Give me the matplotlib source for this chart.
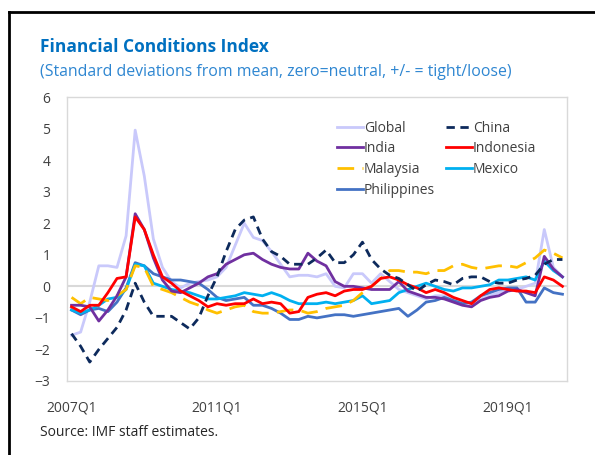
import numpy as np
import matplotlib.pyplot as plt
from matplotlib.lines import Line2D

plt.rcParams['font.family'] = ['Open Sans', 'DejaVu Sans']

# quarterly data, 2007Q1 - 2020Q3
start_year = 2007
n_quarters = 55
quarters = [f'{start_year + i // 4}Q{i % 4 + 1}' for i in range(n_quarters)]

global_fci = [-1.55, -1.45, -0.5, 0.65, 0.65, 0.6, 1.6, 4.95, 3.5, 1.5,
              0.6, 0.15, -0.05, 0.1, 0.15, 0.2, 0.3, 0.6, 1.3, 2.0,
              1.55, 1.45, 1.1, 0.7, 0.3, 0.35, 0.35, 0.3, 0.4, 0.0,
              -0.05, 0.4, 0.4, 0.1, 0.4, 0.15, -0.1, -0.2, -0.3, -0.4,
              -0.3, -0.3, -0.4, -0.5, -0.55, -0.4, -0.3, -0.2, -0.1, -0.1,
              0.0, 0.1, 1.8, 0.6, 0.3]
china = [-1.5, -1.9, -2.4, -2.0, -1.65, -1.3, -0.75, 0.1, -0.5, -0.95,
         -0.95, -0.95, -1.15, -1.35, -1.0, -0.3, 0.3, 1.1, 1.8, 2.1,
         2.2, 1.5, 1.1, 0.95, 0.7, 0.7, 0.7, 0.9, 1.15, 0.75,
         0.75, 1.0, 1.4, 0.85, 0.55, 0.35, 0.25, 0.05, -0.15, 0.05,
         0.2, 0.15, 0.05, 0.25, 0.3, 0.3, 0.15, 0.1, 0.1, 0.2,
         0.25, 0.35, 0.7, 0.85, 0.85]
india = [-0.6, -0.6, -0.65, -1.1, -0.75, -0.3, 0.3, 2.3, 1.8, 0.9,
         0.2, -0.15, -0.2, -0.05, 0.1, 0.3, 0.4, 0.7, 0.85, 1.0,
         1.05, 0.85, 0.7, 0.6, 0.55, 0.55, 1.05, 0.8, 0.65, 0.15,
         0.0, 0.0, -0.05, -0.1, -0.1, -0.1, 0.15, -0.15, -0.25, -0.35,
         -0.35, -0.4, -0.5, -0.6, -0.65, -0.45, -0.35, -0.3, -0.15, -0.1,
         -0.2, -0.3, 0.95, 0.55, 0.3]
indonesia = [-0.65, -0.8, -0.6, -0.6, -0.2, 0.25, 0.3, 2.2, 1.8, 1.0,
             0.3, 0.1, -0.15, -0.3, -0.45, -0.65, -0.55, -0.6, -0.55, -0.55,
             -0.4, -0.55, -0.5, -0.55, -0.85, -0.8, -0.35, -0.25, -0.2, -0.3,
             -0.15, -0.1, -0.1, 0.0, 0.25, 0.3, 0.2, 0.05, -0.05, -0.2,
             -0.1, -0.2, -0.35, -0.45, -0.55, -0.3, -0.1, -0.05, -0.1, -0.15,
             -0.15, -0.2, 0.3, 0.2, 0.0]
malaysia = [-0.35, -0.55, -0.35, -0.4, -0.45, -0.3, -0.1, 0.65, 0.6, 0.0,
            -0.1, -0.2, -0.35, -0.5, -0.6, -0.75, -0.85, -0.75, -0.65, -0.6,
            -0.8, -0.85, -0.85, -0.8, -0.75, -0.75, -0.85, -0.8, -0.7, -0.65,
            -0.6, -0.45, -0.2, 0.0, 0.25, 0.5, 0.5, 0.45, 0.45, 0.4,
            0.5, 0.5, 0.65, 0.7, 0.6, 0.55, 0.6, 0.65, 0.65, 0.6,
            0.75, 0.9, 1.15, 1.05, 0.9]
mexico = [-0.75, -0.85, -0.75, -0.6, -0.4, -0.35, -0.1, 0.7, 0.65, 0.1,
          0.0, -0.1, -0.15, -0.2, -0.3, -0.4, -0.4, -0.35, -0.3, -0.2,
          -0.25, -0.3, -0.2, -0.3, -0.45, -0.55, -0.55, -0.55, -0.5, -0.55,
          -0.5, -0.45, -0.3, -0.55, -0.5, -0.45, -0.2, -0.1, 0.0, 0.1,
          0.0, -0.1, -0.15, -0.05, -0.05, 0.0, 0.05, 0.2, 0.2, 0.25,
          0.3, 0.2, 0.8, 0.5, 0.3]
philippines = [-0.75, -0.9, -0.75, -0.7, -0.8, -0.5, -0.05, 0.75, 0.65, 0.4,
               0.3, 0.2, 0.2, 0.15, 0.1, -0.1, -0.35, -0.45, -0.4, -0.35,
               -0.6, -0.6, -0.7, -0.85, -1.05, -1.05, -0.95, -1.0, -0.95, -0.9,
               -0.9, -0.95, -0.9, -0.85, -0.8, -0.75, -0.7, -0.95, -0.75, -0.5,
               -0.45, -0.35, -0.45, -0.55, -0.5, -0.3, -0.2, -0.1, -0.05, -0.05,
               -0.5, -0.5, -0.05, -0.2, -0.25]

x = np.arange(n_quarters)

series = [
    {'y': global_fci, 'label': 'Global', 'color': '#C9C9FB', 'ls': '-'},
    {'y': china, 'label': 'China', 'color': '#0D2A5C', 'ls': (0, (3, 2))},
    {'y': india, 'label': 'India', 'color': '#7030A0', 'ls': '-'},
    {'y': indonesia, 'label': 'Indonesia', 'color': '#FF0000', 'ls': '-'},
    {'y': malaysia, 'label': 'Malaysia', 'color': '#FFC000', 'ls': (0, (6, 3))},
    {'y': mexico, 'label': 'Mexico', 'color': '#00B0F0', 'ls': '-'},
    {'y': philippines, 'label': 'Philippines', 'color': '#4472C4', 'ls': '-'},
]

fig = plt.figure(figsize=(5.95, 4.55), dpi=100)
ax = fig.add_axes([67 / 595, 1 - 381 / 455, 500 / 595, 284 / 455])

ax.axhline(0, color='#D9D9D9', lw=1.5, zorder=1)

# draw order: Global at the back
order = [0, 6, 5, 4, 2, 3, 1]
for k in order:
    s = series[k]
    ax.plot(x, s['y'], color=s['color'], ls=s['ls'], lw=2, label=s['label'],
            zorder=2 + order.index(k))

ax.set_xlim(-0.5, n_quarters - 0.5)
ax.set_ylim(-3, 6)
ax.set_yticks(range(-3, 7))
ax.set_xticks(x[::16])
ax.set_xticklabels([quarters[i] for i in x[::16]])
ax.tick_params(length=0, labelsize=10, labelcolor='#404040')
ax.tick_params(axis='y', pad=12)
ax.tick_params(axis='x', pad=14)
for sp in ax.spines.values():
    sp.set_color('#D9D9D9')
    sp.set_linewidth(1)

# legend fills by column, so list it column by column
handles, labels = ax.get_legend_handles_labels()
lookup = dict(zip(labels, handles))
leg_order = ['Global', 'India', 'Malaysia', 'Philippines', 'China', 'Indonesia', 'Mexico']
ax.legend([lookup[l] for l in leg_order], leg_order, ncol=2, frameon=False,
          loc='upper left', bbox_to_anchor=(324 / 595, 1 - 108 / 455),
          bbox_transform=fig.transFigure, fontsize=10, handlelength=1.9,
          handletextpad=0.08, columnspacing=0.75, labelspacing=0.42,
          labelcolor='#404040')

fig.text(40 / 595, 1 - 47 / 455, 'Financial Conditions Index', fontsize=12.5,
         fontweight='bold', color='#0070C0', va='center')
fig.text(40 / 595, 1 - 72 / 455,
         '(Standard deviations from mean, zero=neutral, +/- = tight/loose)',
         fontsize=11.4, color='#2E86D1', va='center')
fig.text(40 / 595, 1 - 432 / 455, 'Source: IMF staff estimates.', fontsize=10,
         color='#262626', va='center')

# outer frame (left and top only)
fig.add_artist(Line2D([9 / 595, 9 / 595], [0, 1 - 12 / 455], color='black', lw=2))
fig.add_artist(Line2D([9 / 595, 1], [1 - 12 / 455, 1 - 12 / 455], color='black', lw=2))

fig.savefig('out.png', dpi=100)
